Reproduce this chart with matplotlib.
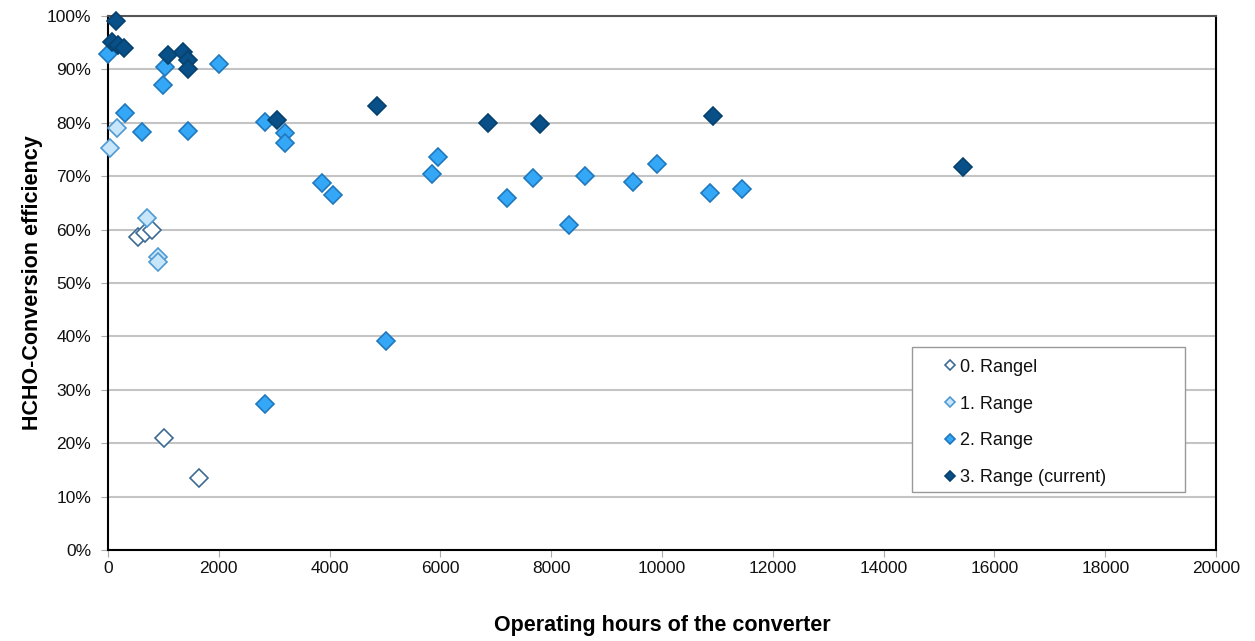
import numpy as np
import matplotlib.pyplot as plt
from matplotlib.patches import Rectangle
from matplotlib.ticker import PercentFormatter

plt.rcParams['font.family'] = ['Liberation Sans', 'DejaVu Sans']

# ── DATA: operating hours / HCHO conversion efficiency (%) ──
r0_hours = [541, 668, 794, 1011, 1643]
r0_eff = [58.6, 59.4, 59.9, 21.0, 13.5]

r1_hours = [36, 162, 704, 903, 903]
r1_eff = [75.3, 79.0, 62.2, 54.9, 53.9]

r2_hours = [0, 307, 614, 1444, 993, 1029, 2004, 2834, 3195, 3195,
            3863, 4061, 5018, 2834, 5848, 5957, 7202, 7671, 8321,
            8610, 9477, 9910, 10866, 11444]
r2_eff = [92.8, 81.8, 78.3, 78.4, 87.1, 90.5, 91.0, 80.2, 78.1, 76.2,
          68.7, 66.5, 39.2, 27.4, 70.5, 73.6, 66.0, 69.6, 60.9,
          70.0, 68.9, 72.3, 66.9, 67.6]

r3_hours = [144, 72, 180, 289, 1083, 1354, 1444, 1444, 3050, 4856,
            6859, 7798, 10921, 15433]
r3_eff = [99.1, 95.1, 94.6, 94.0, 92.7, 93.2, 91.8, 90.0, 80.5, 83.2,
          80.0, 79.8, 81.3, 71.8]

labels = ["0. Rangel", "1. Range", "2. Range", "3. Range (current)"]

# ── PLOT ─────────────────────────────────────────────────────
fig = plt.figure(figsize=(12.55, 6.41), dpi=100)
ax = fig.add_axes([0.086, 0.142, 0.883, 0.833])

styles = [
    dict(mfc='white', mec='#3d6a94'),
    dict(mfc='#c8e6fa', mec='#4f9ad3'),
    dict(mfc='#34a8f6', mec='#1f78bd'),
    dict(mfc='#0a5088', mec='#06426f'),
]
series = [(r0_hours, r0_eff), (r1_hours, r1_eff),
          (r2_hours, r2_eff), (r3_hours, r3_eff)]

for (xs, ys), st, lab in zip(series, styles, labels):
    ax.plot(xs, ys, 'D', ms=9.5, mew=1.2, label=lab, zorder=3,
            clip_on=False, **st)

ax.set_xlim(0, 20000)
ax.set_ylim(0, 100)
ax.set_xticks(np.arange(0, 20001, 2000))
ax.set_yticks(np.arange(0, 101, 10))
ax.yaxis.set_major_formatter(PercentFormatter(decimals=0))
ax.grid(axis='y', color='#c4c4c4', lw=1.5, zorder=0)
ax.set_axisbelow(True)

for sp in ax.spines.values():
    sp.set_color('black')
    sp.set_linewidth(1.5)
ax.spines['top'].set_color('#555555')

ax.tick_params(axis='both', direction='out', length=5, color='#aaaaaa',
               labelsize=12.5, labelcolor='#111111')
ax.tick_params(axis='x', pad=3)
ax.tick_params(axis='y', pad=7)

ax.set_xlabel("Operating hours of the converter", fontsize=15.5,
              fontweight='bold', labelpad=28)
ax.set_ylabel("HCHO-Conversion efficiency", fontsize=15.5,
              fontweight='bold', labelpad=3)

# legend box drawn separately so it can be wider than its content
ax.add_patch(Rectangle((0.7256, 0.1086), 0.2464, 0.2714,
                       transform=ax.transAxes, facecolor='white',
                       edgecolor='#999999', lw=1.0, zorder=4))
leg = ax.legend(loc='upper left', bbox_to_anchor=(0.7455, 0.375),
                fontsize=13, markerscale=0.58, handlelength=0.8,
                handletextpad=0.15, borderpad=0, labelspacing=1.1,
                frameon=False)
leg.set_zorder(5)
for t in leg.get_texts():
    t.set_color('#111111')

plt.savefig("out.png", dpi=100)
